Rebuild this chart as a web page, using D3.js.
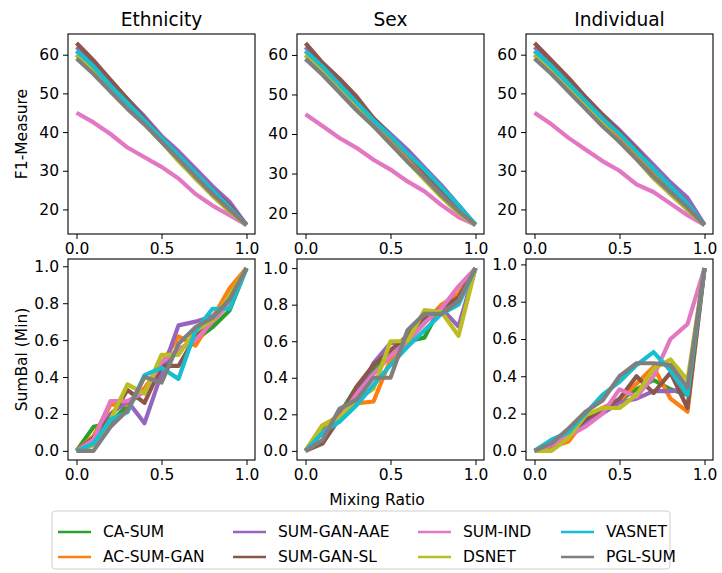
<!DOCTYPE html>
<html lang="en">
<head>
  <meta charset="UTF-8">
  <title>mixing-ratio</title>
  <script src="https://cdn.jsdelivr.net/npm/d3@7"></script>
  <style type="text/css">
    body { margin: 0; background: white; }
    svg text { font-family: "DejaVu Sans", sans-serif; fill: #000; }
  </style>
</head>
<body>
  <script type="text/javascript">
    // data
    var ratios = [0, 0.1, 0.2, 0.3, 0.4, 0.5, 0.6, 0.7, 0.8, 0.9, 1.0]
    var methods = ['CA-SUM', 'AC-SUM-GAN', 'SUM-GAN-AAE', 'SUM-GAN-SL', 'SUM-IND', 'DSNET', 'VASNET', 'PGL-SUM']
    var colors = ['#2ca02c', '#ff7f0e', '#9467bd', '#8c564b', '#e377c2', '#bcbd22', '#17becf', '#7f7f7f']
    var groups = ['Ethnicity', 'Sex', 'Individual']
    var f1Ticks = [20, 30, 40, 50, 60]
    var balTicks = [0.0, 0.2, 0.4, 0.6, 0.8, 1.0]
    var xTicks = [0.0, 0.5, 1.0]

    // F1-Measure, one array per method (same order as methods)
    var f1Ethnicity = [
      [60, 56, 51.5, 47, 42.5, 37.5, 33, 28, 24, 20, 16],
      [61, 57, 52.5, 48, 43.5, 38.5, 34, 29, 24.5, 20.5, 16],
      [62, 58, 53, 48.5, 44, 39, 35, 30.5, 26, 22, 16],
      [63, 58.5, 53.5, 48.5, 43.5, 38.5, 34, 29.5, 25, 21, 16],
      [45, 42.5, 39.5, 36, 33.5, 31, 28, 24, 21, 18.5, 16],
      [60, 55.5, 51, 46.5, 42, 37.5, 32.5, 28, 23.5, 19.5, 16],
      [61, 57, 52, 47.5, 43, 38.5, 34, 29.5, 25, 20.5, 16],
      [59, 55, 50.5, 46, 42, 37.5, 33, 28.5, 24, 20, 16]
    ]
    var f1Sex = [
      [60, 56, 51.5, 47, 43, 38.5, 34, 29.5, 25.5, 21, 17],
      [61, 56.5, 52, 47.5, 43, 38.5, 34, 29.5, 25.5, 21, 17],
      [62, 57.5, 53, 48.5, 44, 40, 36, 31.5, 27, 22, 17],
      [63, 58, 54, 49.5, 44, 39.5, 35, 30.5, 26, 21.5, 17],
      [45, 42, 39, 36.5, 33.5, 31, 28, 25.5, 22, 19, 17],
      [60, 55.5, 51, 46.5, 42, 37.5, 33, 28.5, 24, 20, 17],
      [61, 57, 52.5, 48, 43.5, 39.5, 35, 31, 26.5, 22, 17],
      [59, 55, 50.5, 46, 42, 37.5, 33, 29, 24.5, 20.5, 17]
    ]
    var f1Individual = [
      [60, 56, 51.5, 47, 42.5, 38, 33.5, 28.5, 24, 20, 16],
      [61, 57, 52.5, 48, 43.5, 39, 34.5, 30, 25.5, 21, 16],
      [62, 58, 53.5, 49, 44.5, 40.5, 36, 31.5, 27, 23, 16],
      [63, 58.5, 54, 49, 44.5, 40, 35.5, 30.5, 26, 21.5, 16],
      [45, 42, 38.5, 35.5, 32.5, 30, 26.5, 24.5, 21.5, 18.5, 16],
      [60, 55.5, 51, 46.5, 42, 37.5, 33, 28, 24, 20, 16],
      [61, 57, 52.5, 48, 43.5, 39.5, 35, 30.5, 26, 21.5, 16],
      [59, 55, 50.5, 46, 41.5, 37.5, 33, 28.5, 24.5, 20.5, 16]
    ]

    // SumBal (Min)
    var balEthnicity = [
      [0, 0.13, 0.15, 0.25, 0.33, 0.45, 0.55, 0.6, 0.67, 0.76, 0.99],
      [0, 0.08, 0.25, 0.25, 0.34, 0.47, 0.62, 0.57, 0.72, 0.88, 0.99],
      [0, 0.05, 0.2, 0.27, 0.15, 0.42, 0.68, 0.70, 0.73, 0.80, 0.99],
      [0, 0.07, 0.18, 0.33, 0.26, 0.46, 0.46, 0.62, 0.7, 0.82, 0.99],
      [0, 0.06, 0.27, 0.27, 0.32, 0.48, 0.55, 0.6, 0.7, 0.8, 0.99],
      [0, 0.03, 0.17, 0.36, 0.31, 0.52, 0.52, 0.65, 0.71, 0.84, 0.99],
      [0, 0.04, 0.17, 0.21, 0.41, 0.45, 0.39, 0.65, 0.77, 0.77, 0.99],
      [0, 0, 0.13, 0.22, 0.40, 0.37, 0.58, 0.67, 0.72, 0.82, 0.99]
    ]
    var balSex = [
      [0, 0.12, 0.2, 0.35, 0.45, 0.52, 0.6, 0.62, 0.8, 0.82, 1.0],
      [0, 0.14, 0.19, 0.26, 0.27, 0.5, 0.6, 0.7, 0.8, 0.86, 1.0],
      [0, 0.1, 0.17, 0.3, 0.48, 0.59, 0.6, 0.72, 0.78, 0.68, 1.0],
      [0, 0.04, 0.18, 0.35, 0.47, 0.55, 0.63, 0.72, 0.78, 0.84, 1.0],
      [0, 0.1, 0.18, 0.31, 0.42, 0.52, 0.6, 0.7, 0.78, 0.9, 1.0],
      [0, 0.14, 0.18, 0.28, 0.34, 0.6, 0.6, 0.77, 0.76, 0.63, 1.0],
      [0, 0.1, 0.16, 0.25, 0.36, 0.47, 0.57, 0.66, 0.75, 0.8, 1.0],
      [0, 0.06, 0.23, 0.28, 0.40, 0.40, 0.66, 0.75, 0.75, 0.82, 1.0]
    ]
    var balIndividual = [
      [0, 0.03, 0.09, 0.17, 0.22, 0.27, 0.33, 0.38, 0.33, 0.3, 0.98],
      [0, 0.02, 0.05, 0.17, 0.23, 0.27, 0.36, 0.45, 0.28, 0.21, 0.98],
      [0, 0.03, 0.08, 0.15, 0.2, 0.26, 0.28, 0.32, 0.32, 0.33, 0.98],
      [0, 0.03, 0.08, 0.17, 0.22, 0.28, 0.4, 0.31, 0.42, 0.23, 0.98],
      [0, 0.03, 0.08, 0.13, 0.2, 0.33, 0.29, 0.4, 0.6, 0.68, 0.98],
      [0, 0, 0.07, 0.19, 0.23, 0.23, 0.3, 0.44, 0.49, 0.38, 0.98],
      [0, 0.06, 0.1, 0.2, 0.3, 0.37, 0.46, 0.53, 0.43, 0.3, 0.98],
      [0, 0.04, 0.12, 0.21, 0.27, 0.4, 0.47, 0.47, 0.46, 0.34, 0.98]
    ]

    var f1Data = [f1Ethnicity, f1Sex, f1Individual]
    var balData = [balEthnicity, balSex, balIndividual]

    // layout
    var w = 722, h = 573
    var lefts = [68, 297, 526]
    var pw = 187
    var rows = [{ top: 34, h: 200, data: f1Data, ticks: f1Ticks, fmt: d3.format('d'), label: 'F1-Measure' },
                { top: 259, h: 201, data: balData, ticks: balTicks, fmt: d3.format('.1f'), label: 'SumBal (Min)' }]

    var svg = d3.select('body').append('svg').attr('width', w).attr('height', h)

    function padded(ext) {
      var m = (ext[1] - ext[0]) * 0.05
      return [ext[0] - m, ext[1] + m]
    }

    rows.forEach(function (row, r) {
      groups.forEach(function (g, c) {
        var series = row.data[c]
        var xScale = d3.scaleLinear().domain(padded([0, 1])).range([0, pw])
        var yScale = d3.scaleLinear().domain(padded(d3.extent(d3.merge(series)))).range([row.h, 0])
        var ax = svg.append('g').attr('transform', 'translate(' + lefts[c] + ',' + row.top + ')')

        ax.append('defs').append('clipPath').attr('id', 'clip' + r + c)
          .append('rect').attr('width', pw).attr('height', row.h)

        var line = d3.line()
          .x(function (d, i) { return xScale(ratios[i]) })
          .y(function (d) { return yScale(d) })
        ax.append('g').attr('clip-path', 'url(#clip' + r + c + ')')
          .selectAll('path').data(series).enter().append('path')
          .attr('d', line)
          .attr('fill', 'none')
          .attr('stroke', function (d, i) { return colors[i] })
          .attr('stroke-width', 4.2)
          .attr('stroke-linejoin', 'round')
          .attr('stroke-linecap', 'butt')

        var xa = ax.append('g').attr('transform', 'translate(0,' + row.h + ')')
          .call(d3.axisBottom(xScale).tickValues(xTicks).tickFormat(d3.format('.1f')).tickSizeOuter(0).tickSize(5).tickPadding(4))
        var ya = ax.append('g')
          .call(d3.axisLeft(yScale).tickValues(row.ticks).tickFormat(row.fmt).tickSizeOuter(0).tickSize(5).tickPadding(4))
        ;[xa, ya].forEach(function (a) {
          a.select('.domain').remove()
          a.selectAll('line').attr('stroke', '#000').attr('stroke-width', 1)
          a.selectAll('text').style('font-size', '15.5px').attr('font-family', 'DejaVu Sans')
        })
        ax.append('rect').attr('width', pw).attr('height', row.h)
          .attr('fill', 'none').attr('stroke', '#000').attr('stroke-width', 1.1)

        if (r === 0) {
          ax.append('text').text(g).attr('x', pw / 2).attr('y', -8)
            .attr('text-anchor', 'middle').style('font-size', '18.6px')
        }
        if (c === 0) {
          ax.append('text').text(row.label)
            .attr('transform', 'translate(-41,' + row.h / 2 + ') rotate(-90)')
            .attr('text-anchor', 'middle').style('font-size', '15.5px')
        }
      })
    })

    svg.append('text').text('Mixing Ratio').attr('x', 377).attr('y', 505)
      .attr('text-anchor', 'middle').style('font-size', '15.5px')

    // legend
    var lg = svg.append('g').attr('transform', 'translate(52,511)')
    lg.append('rect').attr('width', 618).attr('height', 58).attr('rx', 3)
      .attr('fill', 'white').attr('stroke', '#d0d0d0').attr('stroke-width', 1)
    var colX = [6, 181, 366, 509]
    var item = lg.selectAll('g.item').data(methods).enter().append('g').attr('class', 'item')
      .attr('transform', function (d, i) { return 'translate(' + colX[Math.floor(i / 2)] + ',' + (21 + (i % 2) * 25) + ')' })
    item.append('line').attr('x1', 0).attr('x2', 33)
      .attr('stroke', function (d, i) { return colors[i] }).attr('stroke-width', 2.5)
    item.append('text').text(function (d) { return d }).attr('x', 45).attr('dy', '0.35em')
      .style('font-size', '15.5px')
  </script>
</body>
</html>
